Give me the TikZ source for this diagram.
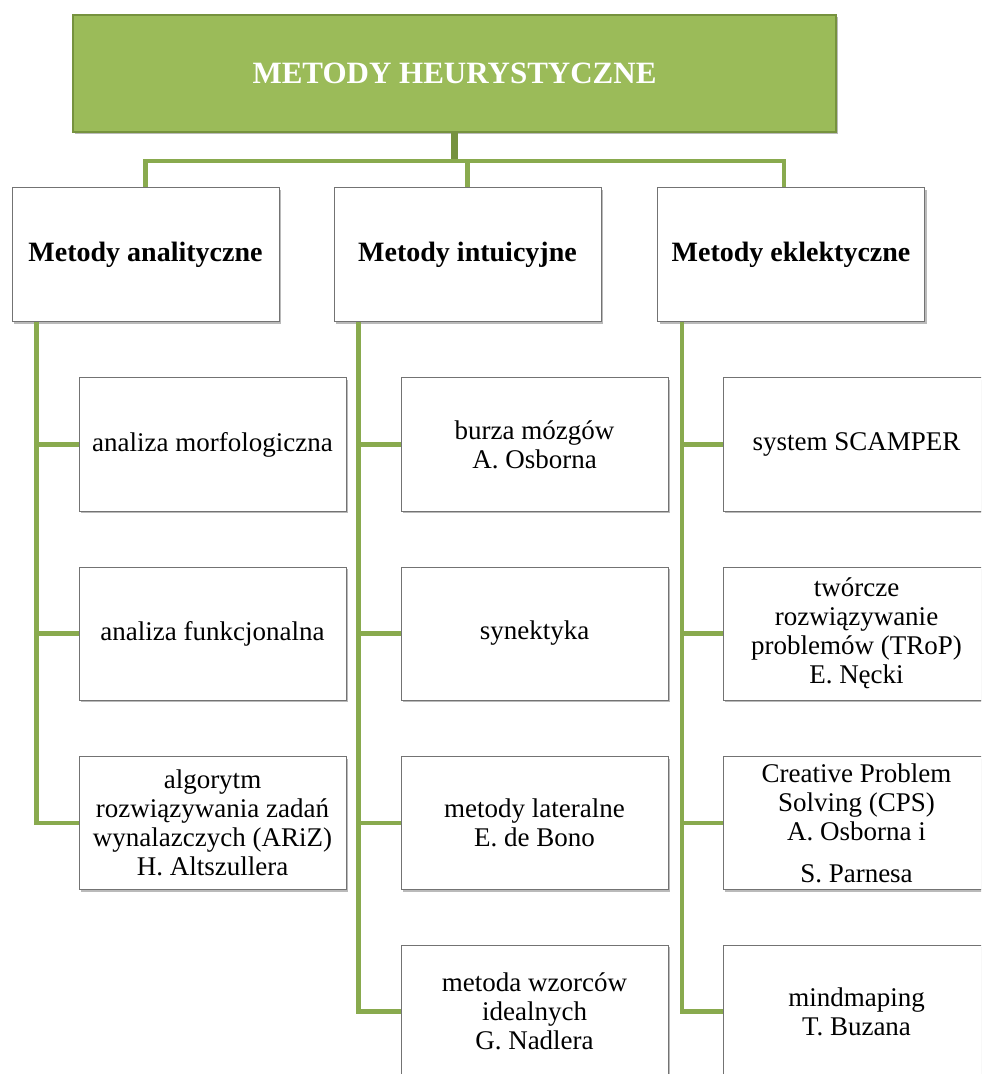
\documentclass[tikz,border=0pt]{standalone}
\usepackage{fontspec}
\setmainfont{Liberation Serif}
\usetikzlibrary{shadows}

\definecolor{heurgreen}{RGB}{155,187,89}
\definecolor{heurdark}{RGB}{118,146,62}
\definecolor{branchgreen}{RGB}{137,170,78}

\begin{document}
\begin{tikzpicture}[x=0.5pt, y=-0.5pt,
    boxshadow/.style={drop shadow={shadow xshift=1.2pt, shadow yshift=-1.2pt, fill=black!60, opacity=.45}},
    headbox/.style={draw=heurdark, line width=0.8pt, fill=heurgreen, boxshadow, text=white,
        font=\fontsize{15.5}{17}\selectfont\bfseries, minimum width=381.5pt, minimum height=58.5pt},
    groupbox/.style={draw=black!55, line width=0.5pt, fill=white, boxshadow,
        font=\fontsize{14}{15}\selectfont\bfseries, minimum width=133.5pt, minimum height=67pt},
    methodbox/.style={draw=black!55, line width=0.5pt, fill=white, boxshadow, align=center, inner sep=1pt,
        font=\fontsize{13.5}{14.5}\selectfont, minimum width=133.5pt, minimum height=66.5pt},
    branch/.style={draw=branchgreen, line width=2.3pt},
    trunk/.style={draw=heurdark, line width=3.5pt}]

    \useasboundingbox (0, 0) rectangle (981, 1074);
    \clip (0, 0) rectangle (981, 1074);

    % top
    \node[headbox] (heur) at (454.5, 73.5) {METODY HEURYSTYCZNE};

    \node[groupbox] (anal) at (145.5, 255) {Metody analityczne};
    \node[groupbox] (intu) at (467.5, 255) {Metody intuicyjne};
    \node[groupbox] (ekle) at (791, 255) {Metody eklektyczne};

    % analityczne
    \node[methodbox] (an1) at (212.5, 444.5) {analiza morfologiczna};
    \node[methodbox] (an2) at (212.5, 633.5) {analiza funkcjonalna};
    \node[methodbox] (an3) at (212.5, 823) {algorytm\\rozwiązywania zadań\\wynalazczych (ARiZ)\\H. Altszullera};

    % intuicyjne
    \node[methodbox] (in1) at (534.5, 444.5) {burza mózgów\\A. Osborna};
    \node[methodbox] (in2) at (534.5, 633.5) {synektyka};
    \node[methodbox] (in3) at (534.5, 823) {metody lateralne\\E. de Bono};
    \node[methodbox] (in4) at (534.5, 1011.5) {metoda wzorców\\idealnych\\G. Nadlera};

    % eklektyczne
    \node[methodbox] (ek1) at (856.5, 444.5) {system SCAMPER};
    \node[methodbox] (ek2) at (856.5, 633.5) {twórcze\\rozwiązywanie\\problemów (TRoP)\\E. Nęcki};
    \node[methodbox] (ek3) at (856.5, 823) {Creative Problem\\Solving (CPS)\\A. Osborna i\\[6.5pt]S. Parnesa};
    \node[methodbox] (ek4) at (856.5, 1011.5) {mindmaping\\T. Buzana};

    \coordinate (bar) at (0, 161);
    \draw[trunk] (heur.south) -- (heur.south |- bar);
    \draw[branch] (anal.north) -- (anal.north |- bar) -| ([xshift=-3.5pt]ekle.north);
    \draw[branch] (intu.north) -- (intu.north |- bar);

    \foreach \kid in {an1, an2, an3}
        \draw[branch] ([xshift=12.5pt]anal.south west) |- (\kid.west);
    \foreach \kid in {in1, in2, in3, in4}
        \draw[branch] ([xshift=12.5pt]intu.south west) |- (\kid.west);
    \foreach \kid in {ek1, ek2, ek3, ek4}
        \draw[branch] ([xshift=12.5pt]ekle.south west) |- (\kid.west);
\end{tikzpicture}
\end{document}
